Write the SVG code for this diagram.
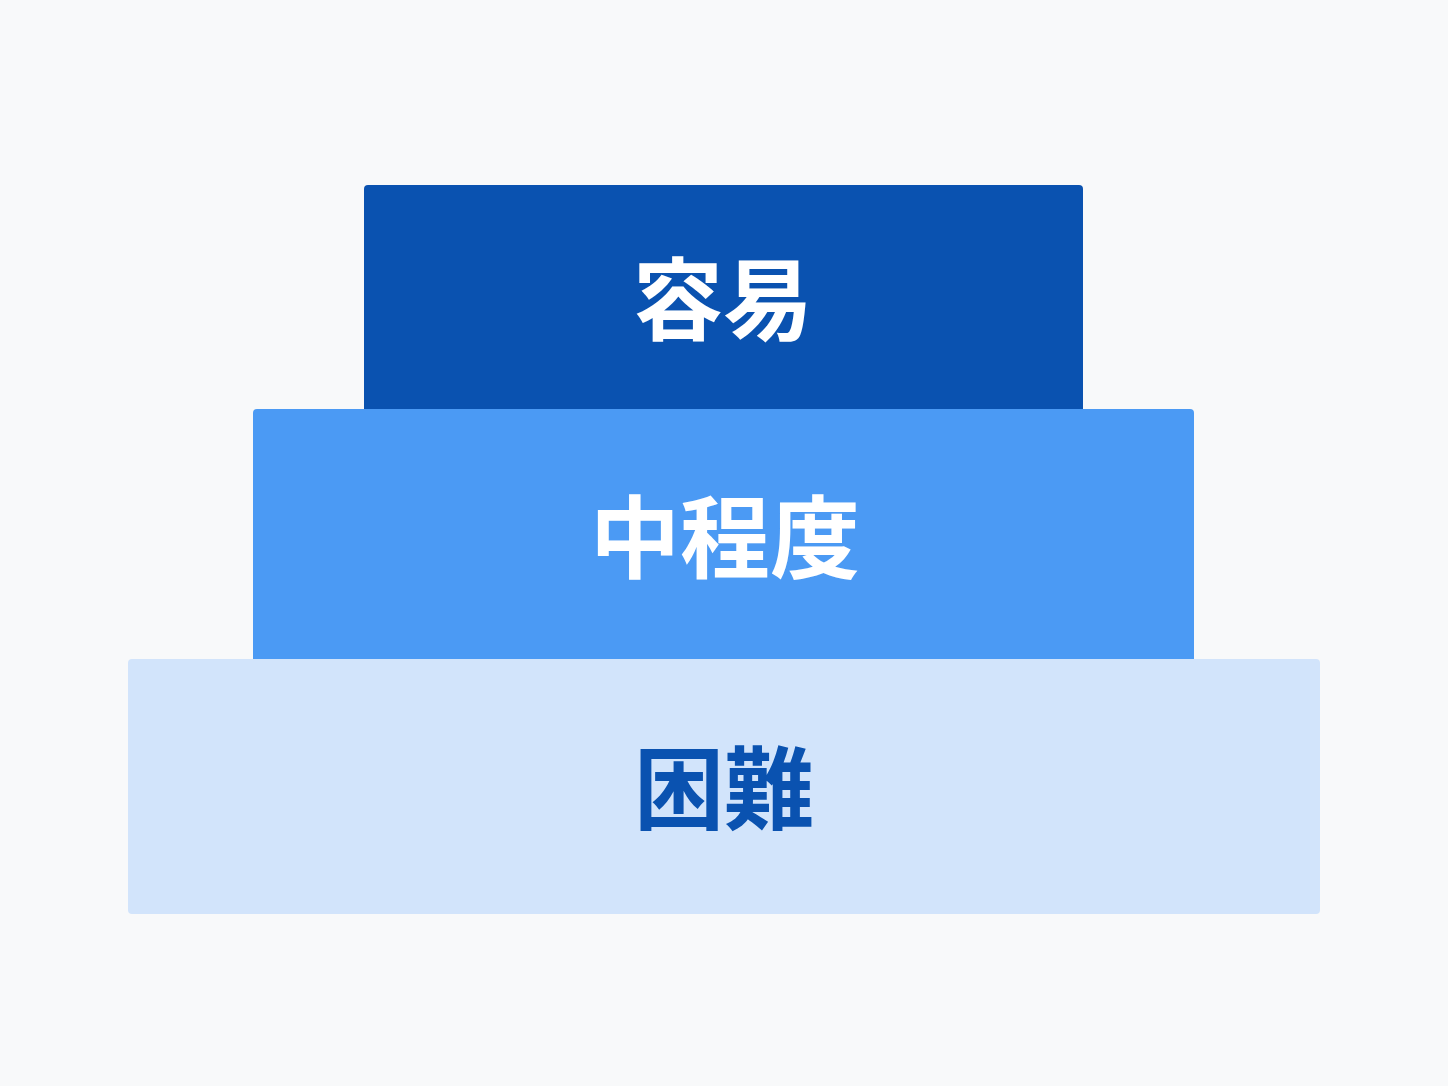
<svg xmlns="http://www.w3.org/2000/svg" width="1448" height="1086" viewBox="0 0 1448 1086">
<style>
.lbl{font-family:"Noto Sans CJK JP","Noto Sans CJK SC",sans-serif;font-weight:700;font-size:90px;text-anchor:middle}
.w{fill:#FFFFFF}
.d{fill:#0A52B0}
</style>
<rect x="0" y="0" width="1448" height="1086" fill="#F8F9FA"/>
<g id="node-hard">
<rect x="128" y="659" width="1192" height="255" rx="4" fill="#D2E4FB"/>
<text class="lbl d" x="724" y="822">困難</text>
</g>
<g id="node-medium">
<path d="M253 659 V413 Q253 409 257 409 H1190 Q1194 409 1194 413 V659 Z" fill="#4B9AF4"/>
<text class="lbl w" x="725" y="571">中程度</text>
</g>
<g id="node-easy">
<path d="M364 409 V189 Q364 185 368 185 H1079 Q1083 185 1083 189 V409 Z" fill="#0A52B0"/>
<text class="lbl w" x="723" y="333">容易</text>
</g>
<g id="connectors"></g>
</svg>
